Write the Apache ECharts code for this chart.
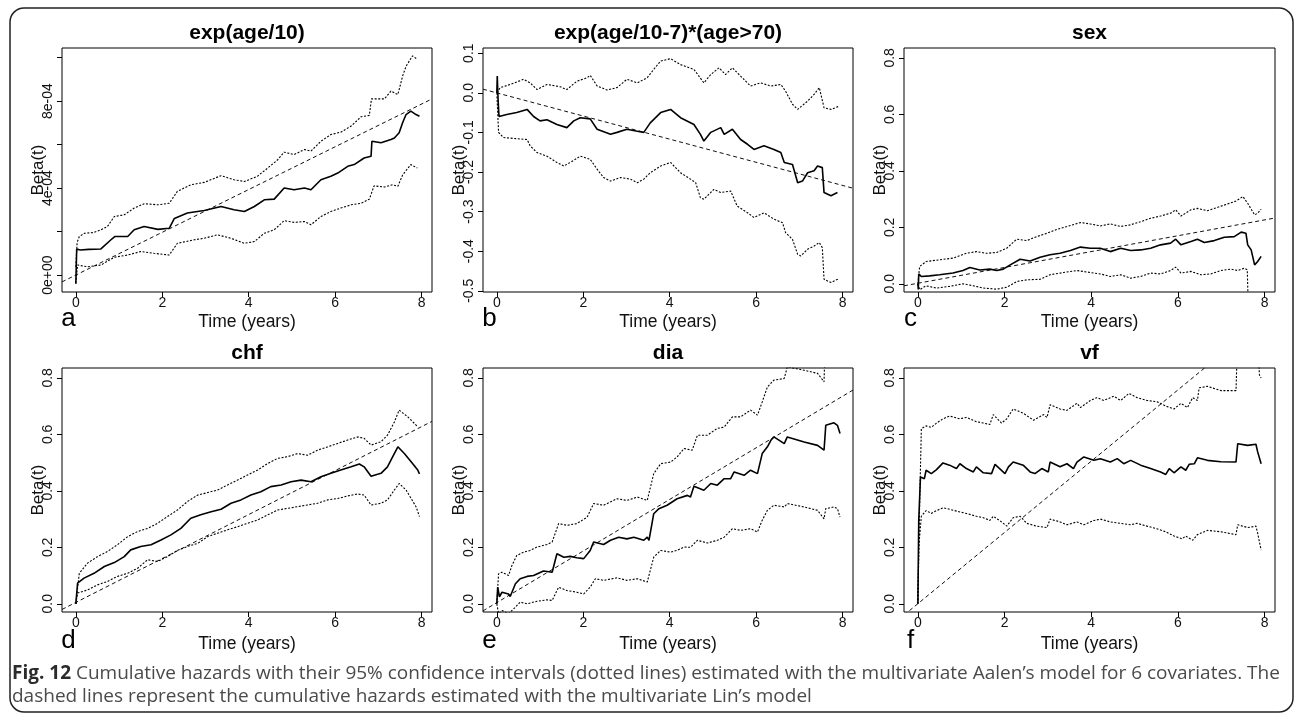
<!DOCTYPE html>
<html>
<head>
<meta charset="utf-8">
<title>Cumulative hazards – Aalen vs Lin</title>
<script src="https://cdn.jsdelivr.net/npm/echarts@6/dist/echarts.min.js"></script>
<style>
  html, body { margin: 0; padding: 0; background: #ffffff; }
  #chart { width: 1295px; height: 717px; }
</style>
</head>
<body>
<div id="chart"></div>
<script>
// ---------------------------------------------------------------------------
// Data: time in years, cumulative regression coefficient Beta(t).
// est = Aalen estimate, hi/lo = 95% confidence band, lin = Lin's model line.
// ---------------------------------------------------------------------------
const xTickValues = [0, 2, 4, 6, 8];
const xTickLabels = ['0', '2', '4', '6', '8'];

// a) exp(age/10)
const aYTicks = [0, 2e-4, 4e-4, 6e-4, 8e-4, 10e-4];
const aYLabelValues = [0, 4e-4, 8e-4];
const aYLabels = ['0e+00', '4e-04', '8e-04'];
const estA = [[0,-0.4e-4],[0.02,1.2e-4],[0.1,1.15e-4],[0.3,1.18e-4],[0.58,1.2e-4],[0.8,1.6e-4],[0.9,1.77e-4],[1.2,1.77e-4],[1.35,2.08e-4],[1.58,2.23e-4],[1.9,2.1e-4],[2.16,2.15e-4],[2.28,2.6e-4],[2.58,2.85e-4],[2.97,2.97e-4],[3.36,3.15e-4],[3.66,3.0e-4],[3.9,2.92e-4],[4.13,3.15e-4],[4.36,3.46e-4],[4.59,3.49e-4],[4.82,4.0e-4],[5.05,3.92e-4],[5.29,4.0e-4],[5.44,3.92e-4],[5.67,4.38e-4],[5.9,4.54e-4],[6.06,4.69e-4],[6.29,5.0e-4],[6.44,5.08e-4],[6.67,5.38e-4],[6.83,5.46e-4],[6.85,6.15e-4],[7.06,6.08e-4],[7.29,6.23e-4],[7.37,6.3e-4],[7.48,6.54e-4],[7.56,7.0e-4],[7.64,7.38e-4],[7.75,7.54e-4],[7.87,7.38e-4],[7.95,7.3e-4]];
const hiA = [[0,0.38e-4],[0.03,1.5e-4],[0.08,1.77e-4],[0.2,1.92e-4],[0.4,1.95e-4],[0.58,2.08e-4],[0.73,2.23e-4],[0.89,2.69e-4],[1.12,2.77e-4],[1.35,3.08e-4],[1.58,3.28e-4],[1.9,3.23e-4],[2.16,3.3e-4],[2.35,3.85e-4],[2.66,4.15e-4],[2.97,4.26e-4],[3.36,4.57e-4],[3.66,4.38e-4],[3.9,4.3e-4],[4.2,4.54e-4],[4.44,4.92e-4],[4.67,5.3e-4],[4.82,5.65e-4],[5.05,5.54e-4],[5.29,5.77e-4],[5.44,5.7e-4],[5.67,6.15e-4],[5.9,6.46e-4],[6.13,6.57e-4],[6.37,6.85e-4],[6.6,7.28e-4],[6.79,7.34e-4],[6.84,8.1e-4],[7.14,8.1e-4],[7.29,8.46e-4],[7.45,8.3e-4],[7.56,9.15e-4],[7.64,9.6e-4],[7.79,10.08e-4],[7.9,9.92e-4]];
const loA = [[0,-0.38e-4],[0.04,0.46e-4],[0.27,0.38e-4],[0.58,0.46e-4],[0.89,0.82e-4],[1.2,0.92e-4],[1.5,1.08e-4],[1.81,1.0e-4],[2.16,0.92e-4],[2.35,1.46e-4],[2.74,1.62e-4],[2.97,1.69e-4],[3.28,1.85e-4],[3.59,1.69e-4],[3.9,1.46e-4],[4.13,1.54e-4],[4.36,1.92e-4],[4.59,2.08e-4],[4.82,2.5e-4],[5.05,2.42e-4],[5.29,2.46e-4],[5.44,2.31e-4],[5.67,2.69e-4],[5.9,2.92e-4],[6.13,3.08e-4],[6.37,3.23e-4],[6.6,3.3e-4],[6.79,3.49e-4],[6.9,4.1e-4],[7.14,4.05e-4],[7.33,4.15e-4],[7.45,4.08e-4],[7.56,4.6e-4],[7.75,5.08e-4],[7.9,4.92e-4]];
const linA = [[-0.32,-0.315e-4],[8.24,8.1e-4]];

// b) exp(age/10-7)*(age>70)
const bYTicks = [0.1, 0, -0.1, -0.2, -0.3, -0.4, -0.5];
const bYLabels = ['0.1', '0.0', '-0.1', '-0.2', '-0.3', '-0.4', '-0.5'];
const estB = [[0,0],[0.01,0.042],[0.03,-0.02],[0.05,-0.06],[0.23,-0.055],[0.46,-0.05],[0.7,-0.042],[0.85,-0.06],[1.0,-0.071],[1.16,-0.068],[1.39,-0.08],[1.62,-0.088],[1.78,-0.071],[1.93,-0.063],[2.16,-0.066],[2.32,-0.092],[2.63,-0.105],[2.78,-0.1],[3.01,-0.092],[3.25,-0.097],[3.4,-0.1],[3.55,-0.076],[3.79,-0.05],[4.02,-0.042],[4.25,-0.063],[4.56,-0.08],[4.71,-0.105],[4.79,-0.122],[4.95,-0.1],[5.18,-0.088],[5.26,-0.105],[5.45,-0.092],[5.64,-0.118],[5.8,-0.13],[5.95,-0.143],[6.18,-0.134],[6.41,-0.143],[6.57,-0.151],[6.65,-0.176],[6.84,-0.181],[6.96,-0.227],[7.07,-0.223],[7.19,-0.202],[7.34,-0.197],[7.42,-0.185],[7.53,-0.189],[7.57,-0.252],[7.73,-0.26],[7.88,-0.252]];
const hiB = [[0,0],[0.08,0.013],[0.31,0.021],[0.62,0.034],[0.77,0.025],[0.93,0.008],[1.16,0.021],[1.47,0.015],[1.62,0.008],[1.85,0.029],[2.09,0.038],[2.16,0.044],[2.32,0.017],[2.55,0.007],[2.78,0.013],[3.01,0.034],[3.25,0.025],[3.48,0.038],[3.63,0.059],[3.79,0.08],[4.02,0.086],[4.25,0.071],[4.56,0.059],[4.79,0.025],[4.95,0.046],[5.14,0.063],[5.29,0.046],[5.45,0.063],[5.64,0.042],[5.87,0.017],[6.1,0.025],[6.34,0.017],[6.57,0.021],[6.68,0.004],[6.84,-0.029],[6.96,-0.042],[7.19,-0.021],[7.34,-0.004],[7.46,0.013],[7.57,-0.038],[7.73,-0.042],[7.92,-0.034]];
const loB = [[0,0],[0.04,-0.1],[0.15,-0.113],[0.46,-0.116],[0.7,-0.118],[0.77,-0.134],[0.93,-0.151],[1.16,-0.16],[1.39,-0.176],[1.55,-0.185],[1.7,-0.176],[1.93,-0.16],[2.16,-0.168],[2.32,-0.193],[2.47,-0.214],[2.63,-0.223],[2.86,-0.214],[3.09,-0.218],[3.25,-0.227],[3.4,-0.218],[3.55,-0.202],[3.79,-0.185],[4.02,-0.176],[4.25,-0.202],[4.48,-0.218],[4.6,-0.227],[4.71,-0.265],[4.79,-0.269],[5.02,-0.244],[5.18,-0.252],[5.41,-0.248],[5.56,-0.286],[5.8,-0.303],[5.95,-0.315],[6.18,-0.303],[6.41,-0.319],[6.61,-0.328],[6.68,-0.353],[6.84,-0.37],[6.96,-0.408],[7.03,-0.412],[7.19,-0.395],[7.34,-0.387],[7.46,-0.378],[7.53,-0.391],[7.57,-0.471],[7.73,-0.479],[7.92,-0.469]];
const linB = [[-0.32,0.009],[8.24,-0.241]];

// shared tick set for panels c-f
const hazYTicks = [0, 0.2, 0.4, 0.6, 0.8];
const hazYLabels = ['0.0', '0.2', '0.4', '0.6', '0.8'];

// c) sex
const estC = [[0,0],[0.01,-0.02],[0.02,0.035],[0.08,0.026],[0.27,0.028],[0.5,0.032],[0.81,0.038],[1.04,0.047],[1.2,0.058],[1.43,0.049],[1.66,0.052],[1.82,0.047],[1.97,0.052],[2.13,0.067],[2.36,0.087],[2.59,0.081],[2.82,0.094],[3.05,0.103],[3.28,0.108],[3.52,0.118],[3.75,0.13],[3.98,0.126],[4.21,0.126],[4.44,0.114],[4.68,0.126],[4.91,0.118],[5.14,0.12],[5.37,0.126],[5.6,0.138],[5.83,0.144],[5.95,0.158],[6.07,0.138],[6.3,0.15],[6.45,0.158],[6.61,0.146],[6.84,0.153],[7.07,0.165],[7.3,0.167],[7.46,0.183],[7.57,0.179],[7.61,0.138],[7.69,0.12],[7.77,0.067],[7.84,0.079],[7.92,0.097]];
const hiC = [[0,0],[0.04,0.061],[0.19,0.079],[0.5,0.085],[0.81,0.091],[1.12,0.108],[1.35,0.114],[1.58,0.108],[1.82,0.111],[2.05,0.126],[2.28,0.158],[2.51,0.153],[2.74,0.167],[2.98,0.179],[3.21,0.193],[3.44,0.203],[3.75,0.217],[3.98,0.212],[4.21,0.205],[4.44,0.212],[4.68,0.203],[4.91,0.209],[5.14,0.22],[5.37,0.232],[5.6,0.24],[5.83,0.25],[5.95,0.262],[6.07,0.24],[6.3,0.262],[6.45,0.267],[6.68,0.259],[6.92,0.271],[7.15,0.283],[7.34,0.293],[7.5,0.309],[7.61,0.285],[7.77,0.244],[7.84,0.25],[7.92,0.264]];
const loC = [[0,0],[0.04,-0.021],[0.19,-0.007],[0.43,-0.015],[0.73,-0.009],[1.04,0],[1.28,-0.007],[1.51,-0.015],[1.82,-0.019],[2.05,-0.012],[2.28,0.008],[2.51,0.014],[2.82,0.016],[3.05,0.032],[3.36,0.04],[3.67,0.047],[3.98,0.04],[4.21,0.035],[4.44,0.026],[4.68,0.032],[4.91,0.02],[5.14,0.026],[5.37,0.038],[5.6,0.035],[5.83,0.047],[5.95,0.059],[6.07,0.038],[6.3,0.044],[6.53,0.032],[6.76,0.035],[6.99,0.047],[7.22,0.052],[7.38,0.047],[7.53,0.055],[7.6,0.05],[7.62,-0.06],[7.92,-0.07]];
const linC = [[-0.32,-0.007],[8.24,0.233]];

// d) chf
const estD = [[0,0],[0.04,0.073],[0.19,0.091],[0.42,0.108],[0.66,0.132],[0.89,0.146],[1.12,0.167],[1.27,0.191],[1.5,0.203],[1.74,0.209],[1.97,0.226],[2.2,0.244],[2.43,0.267],[2.66,0.303],[2.89,0.315],[3.13,0.326],[3.36,0.335],[3.59,0.356],[3.82,0.368],[4.05,0.385],[4.28,0.397],[4.51,0.415],[4.75,0.421],[4.98,0.432],[5.21,0.438],[5.44,0.432],[5.67,0.45],[5.9,0.462],[6.13,0.474],[6.37,0.485],[6.56,0.495],[6.67,0.485],[6.83,0.452],[7.06,0.462],[7.21,0.485],[7.29,0.509],[7.45,0.556],[7.6,0.532],[7.79,0.497],[7.91,0.474],[7.95,0.46]];
const hiD = [[0,0],[0.08,0.108],[0.27,0.144],[0.5,0.167],[0.73,0.185],[0.96,0.209],[1.2,0.238],[1.43,0.256],[1.66,0.267],[1.89,0.285],[2.12,0.309],[2.35,0.332],[2.58,0.362],[2.82,0.385],[3.05,0.394],[3.28,0.403],[3.51,0.421],[3.74,0.438],[3.97,0.456],[4.21,0.474],[4.44,0.497],[4.67,0.515],[4.9,0.521],[5.13,0.532],[5.36,0.526],[5.59,0.544],[5.83,0.556],[6.06,0.568],[6.29,0.58],[6.52,0.591],[6.56,0.597],[6.67,0.586],[6.83,0.562],[7.06,0.574],[7.21,0.597],[7.37,0.644],[7.48,0.686],[7.68,0.662],[7.91,0.627]];
const loD = [[0,0],[0.04,0.038],[0.27,0.049],[0.5,0.067],[0.73,0.079],[0.96,0.097],[1.2,0.108],[1.43,0.126],[1.66,0.156],[1.89,0.15],[2.12,0.167],[2.35,0.189],[2.58,0.203],[2.82,0.214],[3.05,0.238],[3.28,0.25],[3.51,0.262],[3.74,0.273],[3.97,0.285],[4.21,0.297],[4.44,0.315],[4.67,0.332],[4.9,0.338],[5.13,0.344],[5.36,0.35],[5.59,0.356],[5.83,0.368],[6.06,0.373],[6.29,0.382],[6.52,0.389],[6.56,0.394],[6.67,0.385],[6.83,0.35],[7.06,0.356],[7.21,0.368],[7.37,0.403],[7.48,0.426],[7.64,0.403],[7.87,0.344],[7.95,0.309]];
const linD = [[-0.32,-0.02],[8.24,0.646]];

// e) dia
const estE = [[0,0],[0.02,0.059],[0.06,0.025],[0.12,0.041],[0.27,0.035],[0.31,0.026],[0.43,0.071],[0.54,0.089],[0.7,0.097],[0.85,0.1],[1.08,0.116],[1.28,0.112],[1.39,0.177],[1.55,0.165],[1.7,0.168],[1.85,0.163],[2.01,0.16],[2.16,0.189],[2.24,0.219],[2.47,0.21],[2.63,0.225],[2.82,0.236],[3.01,0.23],[3.17,0.236],[3.4,0.225],[3.48,0.236],[3.52,0.225],[3.63,0.319],[3.75,0.337],[3.94,0.349],[4.17,0.372],[4.41,0.384],[4.48,0.378],[4.56,0.416],[4.79,0.402],[4.95,0.426],[5.1,0.42],[5.26,0.443],[5.41,0.443],[5.49,0.467],[5.72,0.455],[5.87,0.473],[6.03,0.461],[6.14,0.532],[6.26,0.556],[6.34,0.579],[6.41,0.591],[6.65,0.567],[6.72,0.591],[7.11,0.573],[7.42,0.561],[7.57,0.544],[7.61,0.632],[7.8,0.641],[7.88,0.632],[7.94,0.603]];
const hiE = [[0,0],[0.04,0.106],[0.12,0.112],[0.27,0.1],[0.35,0.136],[0.46,0.171],[0.62,0.183],[0.77,0.189],[0.93,0.201],[1.16,0.21],[1.28,0.219],[1.43,0.284],[1.62,0.278],[1.85,0.284],[2.09,0.307],[2.24,0.355],[2.47,0.349],[2.78,0.372],[3.01,0.366],[3.25,0.378],[3.48,0.366],[3.63,0.461],[3.79,0.496],[4.02,0.502],[4.17,0.52],[4.33,0.55],[4.52,0.544],[4.64,0.597],[4.87,0.597],[5.1,0.621],[5.26,0.626],[5.45,0.662],[5.64,0.662],[5.87,0.686],[6.03,0.668],[6.14,0.715],[6.26,0.768],[6.41,0.792],[6.65,0.798],[6.72,0.839],[7.11,0.827],[7.42,0.816],[7.57,0.786],[7.6,0.95],[7.94,0.95]];
const loE = [[0,0],[0.04,-0.035],[0.12,-0.024],[0.27,-0.035],[0.43,-0.012],[0.54,0.006],[0.7,0],[0.93,0.009],[1.16,0.014],[1.28,0.012],[1.43,0.059],[1.62,0.047],[1.85,0.041],[2.01,0.035],[2.16,0.059],[2.28,0.089],[2.47,0.083],[2.78,0.092],[3.01,0.083],[3.25,0.089],[3.48,0.077],[3.63,0.165],[3.79,0.189],[4.02,0.183],[4.17,0.189],[4.33,0.201],[4.48,0.2],[4.64,0.225],[4.87,0.215],[5.1,0.225],[5.26,0.236],[5.45,0.266],[5.64,0.26],[5.87,0.266],[6.03,0.254],[6.14,0.296],[6.26,0.331],[6.41,0.349],[6.65,0.343],[6.72,0.355],[7.11,0.343],[7.42,0.331],[7.57,0.301],[7.61,0.337],[7.8,0.343],[7.88,0.337],[7.94,0.307]];
const linE = [[-0.32,-0.025],[8.24,0.757]];

// f) vf
const estF = [[0,0],[0.02,0.296],[0.06,0.449],[0.15,0.443],[0.19,0.473],[0.31,0.461],[0.43,0.475],[0.58,0.499],[0.73,0.491],[0.89,0.479],[0.97,0.496],[1.12,0.479],[1.28,0.467],[1.35,0.485],[1.51,0.464],[1.7,0.461],[1.78,0.494],[2.01,0.461],[2.09,0.485],[2.2,0.502],[2.43,0.491],[2.59,0.467],[2.7,0.461],[2.86,0.479],[3.01,0.467],[3.05,0.502],[3.28,0.485],[3.44,0.496],[3.59,0.479],[3.67,0.502],[3.83,0.52],[4.06,0.508],[4.21,0.514],[4.44,0.502],[4.6,0.514],[4.75,0.496],[4.91,0.508],[5.14,0.491],[5.37,0.479],[5.6,0.467],[5.72,0.458],[5.8,0.479],[5.91,0.464],[6.07,0.485],[6.18,0.473],[6.26,0.494],[6.38,0.496],[6.45,0.517],[6.68,0.508],[6.99,0.503],[7.34,0.502],[7.38,0.567],[7.61,0.561],[7.8,0.565],[7.84,0.538],[7.92,0.496]];
const hiF = [[0,0],[0.04,0.343],[0.08,0.62],[0.19,0.63],[0.31,0.625],[0.43,0.64],[0.58,0.655],[0.73,0.665],[0.97,0.655],[1.12,0.66],[1.35,0.645],[1.51,0.64],[1.66,0.635],[1.74,0.67],[1.93,0.64],[2.05,0.655],[2.2,0.69],[2.43,0.675],[2.67,0.65],[2.9,0.67],[2.98,0.66],[3.05,0.705],[3.28,0.69],[3.44,0.685],[3.67,0.71],[3.75,0.695],[3.98,0.72],[4.13,0.73],[4.29,0.72],[4.52,0.735],[4.68,0.72],[4.87,0.745],[5.06,0.73],[5.29,0.72],[5.53,0.715],[5.72,0.7],[5.91,0.69],[6.07,0.71],[6.22,0.695],[6.34,0.73],[6.45,0.72],[6.49,0.765],[6.68,0.77],[6.99,0.755],[7.34,0.755],[7.38,0.95],[7.84,0.95],[7.88,0.81],[7.92,0.8]];
const loF = [[0,0],[0.02,0.2],[0.08,0.31],[0.19,0.33],[0.31,0.32],[0.43,0.33],[0.58,0.34],[0.73,0.335],[0.97,0.325],[1.12,0.32],[1.35,0.31],[1.51,0.305],[1.66,0.295],[1.74,0.31],[1.93,0.29],[2.05,0.275],[2.2,0.305],[2.36,0.31],[2.51,0.285],[2.74,0.275],[2.98,0.27],[3.05,0.3],[3.28,0.29],[3.44,0.28],[3.67,0.29],[3.83,0.28],[4.06,0.295],[4.21,0.3],[4.44,0.29],[4.68,0.285],[4.91,0.28],[5.06,0.285],[5.29,0.275],[5.53,0.265],[5.72,0.255],[5.91,0.24],[6.1,0.23],[6.18,0.24],[6.34,0.225],[6.45,0.245],[6.68,0.26],[6.99,0.255],[7.34,0.245],[7.38,0.28],[7.61,0.27],[7.8,0.275],[7.84,0.25],[7.92,0.19]];
const linF = [[-0.32,-0.04],[8.24,1.04]];

const panelTitles = ['exp(age/10)', 'exp(age/10-7)*(age>70)', 'sex', 'chf', 'dia', 'vf'];
const panelLetters = ['a', 'b', 'c', 'd', 'e', 'f'];
const xAxisTitle = 'Time (years)';
const yAxisTitle = 'Beta(t)';
const captionBold = 'Fig. 12';
const captionLine1 = ' Cumulative hazards with their 95% confidence intervals (dotted lines) estimated with the multivariate Aalen\u2019s model for 6 covariates. The';
const captionLine2 = 'dashed lines represent the cumulative hazards estimated with the multivariate Lin\u2019s model';

// ---------------------------------------------------------------------------
// Panel definitions (data + axis ranges)
// ---------------------------------------------------------------------------
const panels = [
  { est: estA, hi: hiA, lo: loA, lin: linA, yMin: -0.78e-4, yMax: 10.44e-4, ticks: aYTicks, labelValues: aYLabelValues, labels: aYLabels },
  { est: estB, hi: hiB, lo: loB, lin: linB, yMin: -0.503, yMax: 0.113, ticks: bYTicks, labelValues: bYTicks, labels: bYLabels },
  { est: estC, hi: hiC, lo: loC, lin: linC, yMin: -0.029, yMax: 0.835, ticks: hazYTicks, labelValues: hazYTicks, labels: hazYLabels },
  { est: estD, hi: hiD, lo: loD, lin: linD, yMin: -0.029, yMax: 0.835, ticks: hazYTicks, labelValues: hazYTicks, labels: hazYLabels },
  { est: estE, hi: hiE, lo: loE, lin: linE, yMin: -0.029, yMax: 0.835, ticks: hazYTicks, labelValues: hazYTicks, labels: hazYLabels },
  { est: estF, hi: hiF, lo: loF, lin: linF, yMin: -0.029, yMax: 0.835, ticks: hazYTicks, labelValues: hazYTicks, labels: hazYLabels }
];

// ---------------------------------------------------------------------------
// Layout
// ---------------------------------------------------------------------------
const colLeft = [62, 483, 904];
const rowTop = [48, 368];
const plotW = 370;
const plotH = 244;
const X_MIN = -0.32, X_MAX = 8.24;
const FONT = '"Liberation Sans", Arial, Helvetica, sans-serif';
const INK = '#111111';

// tick label text looked up from the named label arrays
function labelFor(values, labels) {
  return function (v) {
    let best = 0, bestD = Infinity;
    values.forEach(function (t, i) {
      const d = Math.abs(t - v);
      if (d < bestD) { bestD = d; best = i; }
    });
    return labels[best];
  };
}

const grids = [], xAxes = [], yAxes = [], series = [], titles = [], graphics = [];

panels.forEach(function (p, i) {
  const col = i % 3, row = Math.floor(i / 3);
  const left = colLeft[col], top = rowTop[row];
  const w = col === 2 ? plotW + 1 : plotW;

  grids.push({
    left: left, top: top, width: w, height: plotH,
    show: true, borderColor: '#000', borderWidth: 1, backgroundColor: 'transparent',
    containLabel: false
  });

  xAxes.push({
    type: 'value', gridIndex: i, min: X_MIN, max: X_MAX, position: 'bottom',
    axisLine: { show: false, onZero: false },
    splitLine: { show: false },
    axisTick: { show: true, customValues: xTickValues, length: 5, inside: false, lineStyle: { color: '#000', width: 1 } },
    axisLabel: {
      show: true, customValues: xTickValues, margin: 4,
      fontFamily: FONT, fontSize: 14, color: INK,
      formatter: labelFor(xTickValues, xTickLabels)
    },
    name: xAxisTitle, nameLocation: 'middle', nameGap: row === 0 ? 21 : 23, nameMoveOverlap: false,
    nameTextStyle: { fontFamily: FONT, fontSize: 17.5, color: INK }
  });

  yAxes.push({
    type: 'value', gridIndex: i, min: p.yMin, max: p.yMax, position: 'left',
    axisLine: { show: false, onZero: false },
    splitLine: { show: false },
    axisTick: { show: true, customValues: p.ticks, length: 5, inside: false, lineStyle: { color: '#000', width: 1 } },
    axisLabel: {
      show: true, customValues: p.labelValues, margin: 7, rotate: 90,
      fontFamily: FONT, fontSize: 14, color: INK,
      formatter: labelFor(p.labelValues, p.labels)
    },
    name: yAxisTitle, nameLocation: 'middle', nameGap: 15, nameRotate: 90, nameMoveOverlap: false,
    nameTextStyle: { fontFamily: FONT, fontSize: 17, color: INK }
  });

  const common = { type: 'line', xAxisIndex: i, yAxisIndex: i, symbol: 'none', clip: true, silent: true, animation: false };
  series.push(Object.assign({}, common, { data: p.lin, lineStyle: { color: '#111', width: 1, type: [4, 3] }, z: 2 }));
  series.push(Object.assign({}, common, { data: p.hi, lineStyle: { color: '#000', width: 1.1, type: [2, 1.6] }, z: 3 }));
  series.push(Object.assign({}, common, { data: p.lo, lineStyle: { color: '#000', width: 1.1, type: [2, 1.6] }, z: 3 }));
  series.push(Object.assign({}, common, { data: p.est, lineStyle: { color: '#000', width: 1.6, type: 'solid' }, z: 4 }));

  titles.push({
    text: panelTitles[i],
    left: left + w / 2, top: row === 0 ? 23 : 343,
    textAlign: 'center', padding: 0,
    textStyle: { fontFamily: FONT, fontSize: 21, fontWeight: 'bold', color: '#000' }
  });

  graphics.push({
    type: 'text', x: left + 6.5, y: row === 0 ? 319 : 641,
    style: { text: panelLetters[i], font: '26px ' + FONT, fill: '#000', textAlign: 'center', textVerticalAlign: 'middle' },
    silent: true
  });
});

// frame and caption
graphics.unshift({
  type: 'rect', shape: { x: 10, y: 8, width: 1283, height: 704, r: 14 },
  style: { fill: 'none', stroke: '#222', lineWidth: 1.5 }, silent: true, z: -1
});
graphics.push({
  type: 'text', x: 12, y: 674,
  style: {
    text: '{b|' + captionBold + '}{r|' + captionLine1 + '}',
    textVerticalAlign: 'middle',
    rich: {
      b: { fontFamily: '"Open Sans", sans-serif', fontSize: 19, fontWeight: 'bold', fill: '#2b2b2b' },
      r: { fontFamily: '"Open Sans", sans-serif', fontSize: 19, fill: '#4a4a4a' }
    }
  },
  silent: true
});
graphics.push({
  type: 'text', x: 12, y: 697,
  style: { text: captionLine2, font: '19px "Open Sans", sans-serif', fill: '#4a4a4a', textVerticalAlign: 'middle' },
  silent: true
});

const chart = echarts.init(document.getElementById('chart'), null, { renderer: 'canvas', width: 1295, height: 717 });
chart.setOption({
  backgroundColor: '#ffffff',
  animation: false,
  title: titles,
  grid: grids,
  xAxis: xAxes,
  yAxis: yAxes,
  series: series,
  graphic: graphics
});
</script>
</body>
</html>
